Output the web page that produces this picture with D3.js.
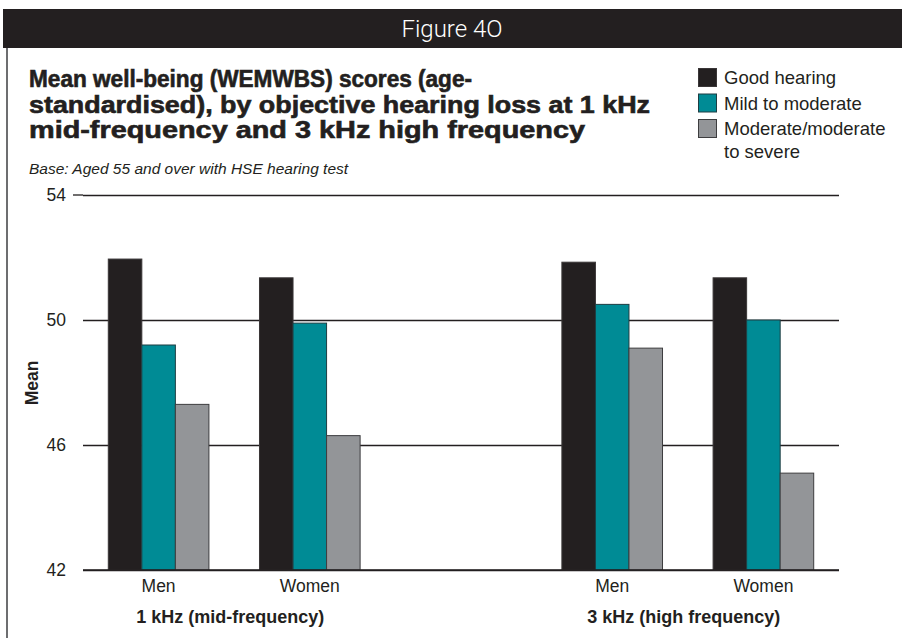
<!DOCTYPE html>
<html>
<head>
<meta charset="utf-8">
<script src="https://cdn.jsdelivr.net/npm/d3@7"></script>
<style>
  html, body { margin: 0; padding: 0; background: #fff; }
  svg { display: block; }
  text { font-family: "Liberation Sans", Arial, Helvetica, sans-serif; fill: #231f20; }
</style>
</head>
<body>
<svg id="chart" width="902" height="638"></svg>
<script>
// ---- Data ----
const frequencies = ["1 kHz (mid-frequency)", "3 kHz (high frequency)"];
const sexes = ["Men", "Women"];
const seriesNames = ["Good hearing", "Mild to moderate", "Moderate/moderate to severe"];
// order: 1 kHz Men, 1 kHz Women, 3 kHz Men, 3 kHz Women
const goodHearing = [51.95, 51.35, 51.85, 51.35];
const mildToModerate = [49.2, 49.9, 50.5, 50.0];
const moderateToSevere = [47.3, 46.3, 49.1, 45.1];
const yTicks = [42, 46, 50, 54];
const seriesColors = ["#231f20", "#008b95", "#939598"];
const seriesStrokes = ["#3a3637", "#1e3d42", "#3d3d3f"];
const figureTitle = "Figure 4O";
const titleLines = [
  "Mean well-being (WEMWBS) scores (age-",
  "standardised), by objective hearing loss at 1 kHz",
  "mid-frequency and 3 kHz high frequency"
];
const subtitle = "Base: Aged 55 and over with HSE hearing test";
const yLabel = "Mean";

const seriesValues = [goodHearing, mildToModerate, moderateToSevere];
const rows = [];
frequencies.forEach((f, fi) => sexes.forEach((s, si) => {
  const idx = fi * 2 + si;
  seriesNames.forEach((n, ni) => rows.push({ f, s, n, ni, v: seriesValues[ni][idx] }));
}));

const svg = d3.select("#chart");

// Header bar
svg.append("rect").attr("x", 3).attr("y", 9).attr("width", 899).attr("height", 39).attr("fill", "#231f20");
svg.append("text").attr("x", 452).attr("y", 37).attr("text-anchor", "middle")
  .style("font-family", "Roboto, 'Liberation Sans', sans-serif").style("font-weight", 300)
  .style("font-size", "24px").style("fill", "#fff").text(figureTitle);
// left border
svg.append("line").attr("x1", 7).attr("x2", 7).attr("y1", 48).attr("y2", 638)
  .attr("stroke", "#6d6e70").attr("stroke-width", 2);

// Title
const titleEnds = [472, 650, 585];
svg.append("g").selectAll("text").data(titleLines).join("text")
  .attr("x", 29).attr("y", (d, i) => 87 + i * 25.5)
  .attr("textLength", (d, i) => titleEnds[i] - 29).attr("lengthAdjust", "spacingAndGlyphs")
  .style("font-size", "23px").style("font-weight", "bold")
  .style("stroke", "#231f20").style("stroke-width", 0.6).text(d => d);
svg.append("text").attr("x", 29).attr("y", 174).style("font-size", "15.5px")
  .style("font-style", "italic").text(subtitle);

// Legend
const lg = svg.append("g").attr("transform", "translate(698,68)");
const legendLines = [["Good hearing"], ["Mild to moderate"], ["Moderate/moderate", "to severe"]];
seriesNames.forEach((n, i) => {
  const g = lg.append("g").attr("transform", `translate(0,${i * 25.5})`);
  g.append("rect").attr("x", 0.5).attr("y", 0.5).attr("width", 18).attr("height", 18)
    .attr("fill", seriesColors[i]).attr("stroke", seriesStrokes[i]).attr("stroke-width", 1);
  g.append("text").attr("x", 26).attr("y", 16).style("font-size", "18.5px")
    .selectAll("tspan").data(legendLines[i]).join("tspan")
    .attr("x", 26).attr("dy", (d, j) => j === 0 ? 0 : 23).text(d => d);
});

// Scales
const x0 = 83, x1 = 839;
const y = d3.scaleLinear().domain([42, 54]).range([570, 195]);
const xFreq = d3.scaleBand().domain(frequencies).range([x0, x1]).paddingInner(1 / 3);
const xSex = d3.scaleBand().domain(sexes).range([0, xFreq.bandwidth()]);
const xSer = d3.scaleBand().domain(seriesNames).range([0, xSex.bandwidth()]).paddingOuter(0.754);

// Grid / axis
const yAxis = d3.axisLeft(y).tickValues(yTicks).tickSize(-(x1 - x0)).tickPadding(17);
const ag = svg.append("g").attr("transform", `translate(${x0},0)`).call(yAxis);
ag.select(".domain").remove();
ag.selectAll(".tick line").attr("stroke", "#231f20").attr("stroke-width", 1.3);
ag.selectAll(".tick text").style("font-size", "17.5px").style("font-family", "'Liberation Sans', Arial, sans-serif").attr("fill", "#231f20");
// extended top line
svg.append("line").attr("x1", 73).attr("x2", x0).attr("y1", y(54)).attr("y2", y(54))
  .attr("stroke", "#231f20").attr("stroke-width", 1.3);

// Bars
svg.append("g").selectAll("rect").data(rows).join("rect")
  .attr("x", d => xFreq(d.f) + xSex(d.s) + xSer(d.n))
  .attr("y", d => y(d.v))
  .attr("width", xSer.bandwidth())
  .attr("height", d => y(42) - y(d.v))
  .attr("fill", d => seriesColors[d.ni])
  .attr("stroke", d => seriesStrokes[d.ni]).attr("stroke-width", 1);

// baseline
svg.append("line").attr("x1", x0).attr("x2", x1).attr("y1", y(42)).attr("y2", y(42))
  .attr("stroke", "#231f20").attr("stroke-width", 1.3);

// Category labels
const catG = svg.append("g");
frequencies.forEach(f => sexes.forEach(s => {
  catG.append("text").attr("x", xFreq(f) + xSex(s) + xSex.bandwidth() / 2).attr("y", 592)
    .attr("text-anchor", "middle").style("font-size", "17.5px").text(s);
}));
svg.append("g").selectAll("text").data(frequencies).join("text")
  .attr("x", d => xFreq(d) + xFreq.bandwidth() / 2 - 4).attr("y", 623)
  .attr("text-anchor", "middle").style("font-size", "18px").style("font-weight", "bold").text(d => d);

// Y label
svg.append("text").attr("transform", "translate(38,383) rotate(-90)")
  .attr("text-anchor", "middle").style("font-size", "17.5px").style("font-weight", "bold").text(yLabel);
</script>
</body>
</html>
